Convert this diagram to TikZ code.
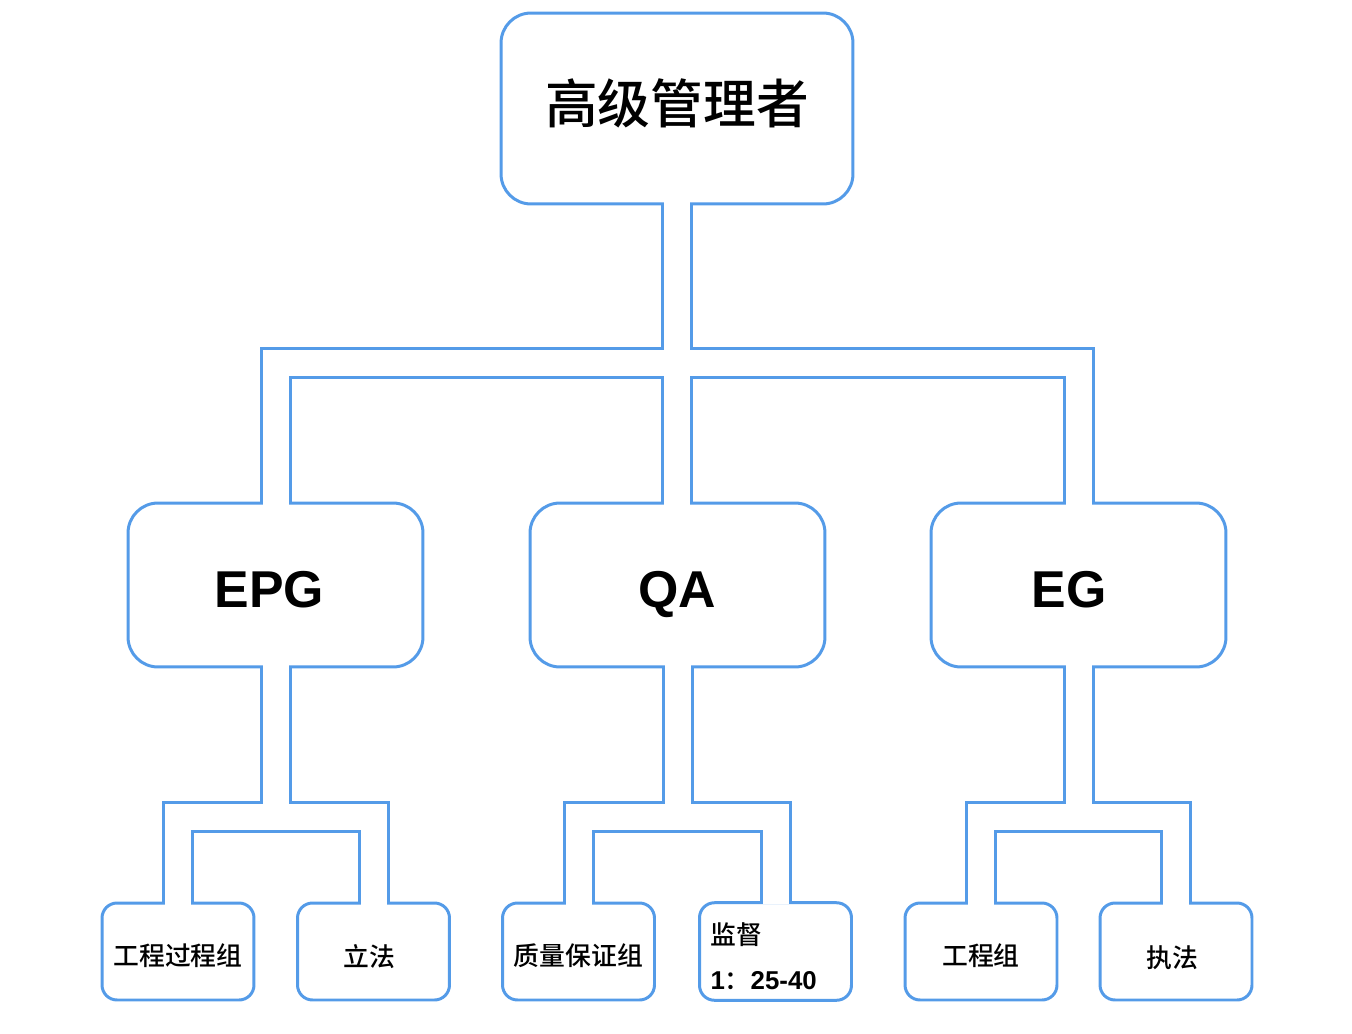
\documentclass[tikz,border=0pt]{standalone}
\usepackage{fontspec}
\usepackage{tikz}
\setmainfont{Liberation Sans}
\newfontfamily\cjk{Noto Sans CJK SC}[BoldFont={Noto Sans CJK SC Medium}]
\definecolor{pipeblue}{RGB}{84,155,232}

\tikzset{
	box/.style={draw=pipeblue, line width=1.7pt, fill=white, font=\bfseries},
	topbox/.style={box, rounded corners=0.6cm, minimum width=7.04cm, minimum height=3.82cm,
		font=\bfseries\cjk\fontsize{30}{36}\selectfont, text height=0.62cm, text depth=0cm},
	midbox/.style={box, rounded corners=0.6cm, minimum width=5.9cm, minimum height=3.28cm,
		font=\bfseries\fontsize{29.5}{36}\selectfont, text height=0.88cm, text depth=0cm},
	leafbox/.style={box, rounded corners=0.3cm, minimum width=3.04cm, minimum height=1.94cm,
		font=\bfseries\cjk\fontsize{14.7}{18}\selectfont, text height=0.54cm, text depth=0cm},
	pipeout/.style={draw=pipeblue, line width=0.64cm},
	pipein/.style={draw=white, line width=0.52cm, shorten <=-0.06cm, shorten >=-0.06cm},
}

\begin{document}
\begin{tikzpicture}[x=0.02cm, y=-0.02cm]
	\useasboundingbox (0, 0) rectangle (1352, 1034);

	\node[topbox] (boss) at (677, 108.5) {高级管理者};

	\node[midbox] (epg) at (275.5, 585) {EPG\rule{0.24cm}{0pt}};
	\node[midbox] (qa)  at (677.5, 585) {QA};
	\node[midbox] (eg)  at (1078.5, 585) {EG\rule{0.38cm}{0pt}};

	\node[leafbox] (epgwork) at (178, 951.5)    {工程过程组};
	\node[leafbox, text height=0.58cm] (epglaw) at (373.5, 951.5) {立法\rule{0.16cm}{0pt}};
	\node[leafbox] (qagroup) at (578.5, 951.5)  {质量保证组};
	\node[leafbox, align=left, text width=2.6cm, inner sep=0.22cm, text height=0.61cm, text depth=,
		font=\bfseries\fontsize{14.7}{25.5}\selectfont] (qawatch) at (775.5, 951.5)
		{{\cjk 监督}\\1{\cjk ：}25-40};
	\node[leafbox] (egwork)  at (981, 951.5)    {工程组};
	\node[leafbox, text height=0.62cm] (eglaw) at (1176, 951.5) {执法\rule{0.14cm}{0pt}};

	\coordinate (hub)   at (677.5, 362.5);
	\coordinate (epgjn) at (277.5, 816.5);
	\coordinate (qajn)  at (677.5, 816.5);
	\coordinate (egjn)  at (1077.5, 816.5);

	% pipes: blue outline first, then white core
	\foreach \layer in {pipeout, pipein} {
		\path[\layer] (boss.south) -- (boss.south |- qa.north);
		\path[\layer] (epg.north) -- (epg.north |- hub) -- (eg.north |- hub) -- (eg.north);
		\path[\layer] (epg.south) -- (epg.south |- epgjn);
		\path[\layer] (epgwork.north) -- (epgwork.north |- epgjn) -- (epglaw.north |- epgjn) -- (epglaw.north);
		\path[\layer] (qa.south) -- (qa.south |- qajn);
		\path[\layer] (qagroup.north) -- (qagroup.north |- qajn) -- (qawatch.north |- qajn) -- (qawatch.north);
		\path[\layer] (eg.south) -- (eg.south |- egjn);
		\path[\layer] (egwork.north) -- (egwork.north |- egjn) -- (eglaw.north |- egjn) -- (eglaw.north);
	}
\end{tikzpicture}
\end{document}
